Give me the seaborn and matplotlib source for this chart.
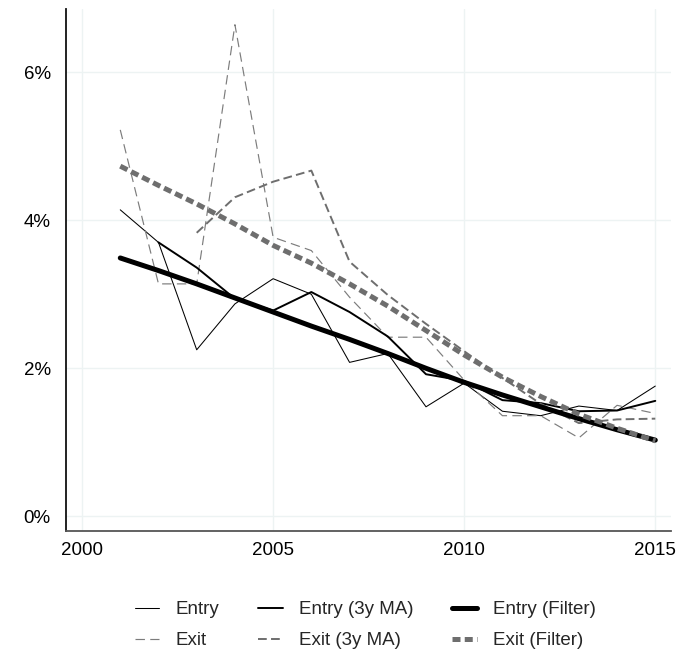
import matplotlib
matplotlib.use("Agg")
import matplotlib.pyplot as plt
from matplotlib.ticker import FuncFormatter
import seaborn as sns

# Firm entry and exit rates, percent
years = list(range(2001, 2016))

entry_raw = [4.14, 3.70, 2.25, 2.87, 3.21, 3.00, 2.08, 2.20, 1.48, 1.80, 1.42, 1.36, 1.49, 1.43, 1.76]
exit_raw = [5.22, 3.14, 3.14, 6.64, 3.77, 3.59, 2.96, 2.42, 2.42, 1.84, 1.36, 1.36, 1.06, 1.50, 1.39]

ma_entry_years = list(range(2002, 2016))
entry_ma = [3.70, 3.36, 2.94, 2.78, 3.03, 2.76, 2.43, 1.92, 1.83, 1.57, 1.53, 1.42, 1.43, 1.56]
ma_exit_years = list(range(2003, 2016))
exit_ma = [3.83, 4.31, 4.52, 4.67, 3.44, 2.99, 2.60, 2.23, 1.87, 1.52, 1.26, 1.31, 1.32]

entry_filter = [3.49, 3.32, 3.14, 2.95, 2.76, 2.57, 2.39, 2.20, 2.00, 1.81, 1.64, 1.48, 1.32, 1.17, 1.03]
exit_filter = [4.73, 4.47, 4.22, 3.95, 3.66, 3.42, 3.14, 2.84, 2.51, 2.18, 1.88, 1.62, 1.38, 1.19, 1.02]

x_ticks = [2000, 2005, 2010, 2015]
y_ticks = [0, 2, 4, 6]

sns.set_style("white")
plt.rcParams["font.family"] = ["Liberation Sans", "DejaVu Sans"]

fig = plt.figure(figsize=(6.84, 6.55), dpi=100)
ax = fig.add_axes([0.0965, 0.189, 0.885, 0.797])

black = "#000000"
grey_light = "#7c7c7c"
grey = "#6e6e6e"

sns.lineplot(x=years, y=entry_raw, ax=ax, color=black, linewidth=0.75,
             label="Entry")
sns.lineplot(x=years, y=exit_raw, ax=ax, color=grey_light, linewidth=0.85,
             linestyle=(0, (8, 4.5)), label="Exit")
sns.lineplot(x=ma_entry_years, y=entry_ma, ax=ax, color=black, linewidth=1.4,
             label="Entry (3y MA)")
sns.lineplot(x=ma_exit_years, y=exit_ma, ax=ax, color=grey, linewidth=1.4,
             linestyle=(0, (4.5, 2.2)), label="Exit (3y MA)")
sns.lineplot(x=years, y=entry_filter, ax=ax, color=black, linewidth=3.6,
             label="Entry (Filter)")
sns.lineplot(x=years, y=exit_filter, ax=ax, color=grey, linewidth=3.6,
             linestyle=(0, (1.6, 0.85)), label="Exit (Filter)")

ax.set_xlim(1999.58, 2015.42)
ax.set_ylim(-0.2, 6.85)
ax.set_xticks(x_ticks)
ax.set_yticks(y_ticks)
ax.yaxis.set_major_formatter(FuncFormatter(lambda v, _: f"{v:.0f}%"))
ax.grid(True, color="#edf3f3", linewidth=1.0)
ax.set_axisbelow(True)

for side in ("top", "right"):
    ax.spines[side].set_visible(False)
ax.spines["left"].set_color("#111111")
ax.spines["left"].set_linewidth(1.3)
ax.spines["bottom"].set_color("#555555")
ax.spines["bottom"].set_linewidth(1.3)

ax.tick_params(axis="both", length=0, labelsize=13.5, colors="#000000")
ax.tick_params(axis="y", pad=11)
ax.tick_params(axis="x", pad=8)
ax.set_xlabel("")
ax.set_ylabel("")

handles, labels = ax.get_legend_handles_labels()
ax.get_legend().remove()
fig.legend(handles, labels, loc="lower center", bbox_to_anchor=(0.534, -0.003),
           borderaxespad=0, ncol=3, frameon=False, fontsize=13.5,
           handlelength=1.3, columnspacing=2.1, handletextpad=0.85,
           labelspacing=0.75)

fig.savefig("out.png", dpi=100)
